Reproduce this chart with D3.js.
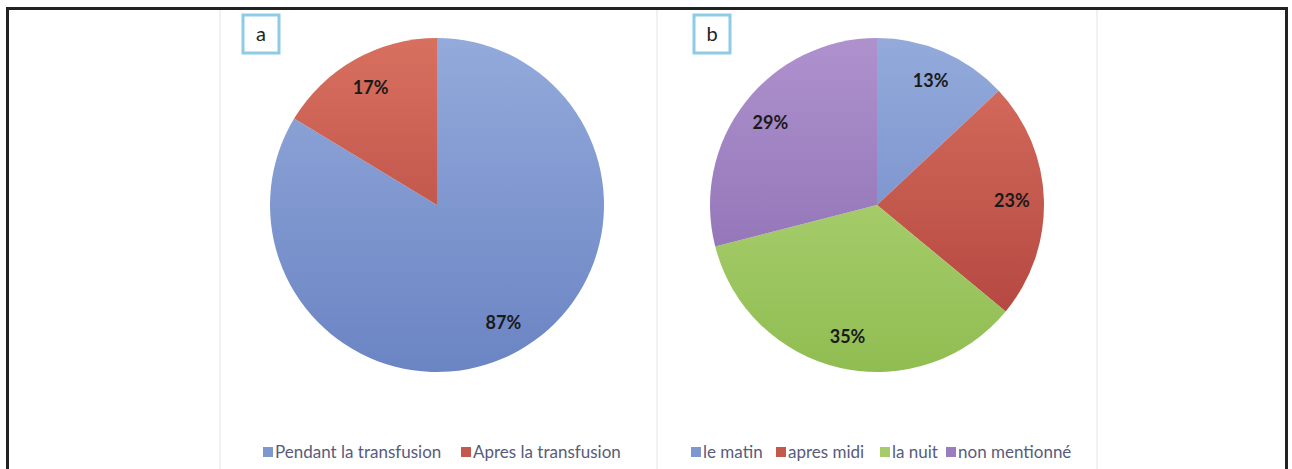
<!DOCTYPE html>
<html><head><meta charset="utf-8">
<script src="https://cdn.jsdelivr.net/npm/d3@7"></script>
<style>body{margin:0;background:#fff}svg{display:block}</style>
</head><body>
<svg id="c" width="1292" height="469"></svg>
<script>
const catsA = ["Pendant la transfusion", "Apres la transfusion"];
const valsA = [87, 17];
const labelsA = ["87%", "17%"];
const catsB = ["le matin", "apres midi", "la nuit", "non mentionné"];
const valsB = [13, 23, 35, 29];
const labelsB = ["13%", "23%", "35%", "29%"];
const colorsTop = {blue:"#93aadb", red:"#d8705f", green:"#b9da80", purple:"#ae91cd"};
const colorsBot = {blue:"#6b84c3", red:"#ae403b", green:"#90bd52", purple:"#8668ae"};

const svg = d3.select("#c");
const defs = svg.append("defs");

// frame
svg.append("rect").attr("x",7.5).attr("y",8.5).attr("width",1279).attr("height",480)
  .attr("fill","none").attr("stroke","#222").attr("stroke-width",3);
// panel separators
[220,657,1097].forEach(x => svg.append("line").attr("x1",x).attr("x2",x).attr("y1",10).attr("y2",469)
  .attr("stroke","#ececec").attr("stroke-width",1.5));

const R = 167;
function drawPie(cx, cy, cats, vals, labels, colorKeys, letter, boxX, legendItems) {
  const pie = d3.pie().sort(null).value(d => d).startAngle(0).endAngle(2*Math.PI);
  const g = svg.append("g").attr("transform",`translate(${cx},${cy})`);
  const arcsData = pie(vals);
  const arc = d3.arc().innerRadius(0).outerRadius(R);
  const lab = d3.arc().innerRadius(135).outerRadius(135);
  g.selectAll("path").data(arcsData).join("path")
    .attr("d", arc)
    .attr("fill", (d,i) => {
      const id = "g_"+colorKeys[i]+"_"+letter;
      const gr = defs.append("linearGradient").attr("id",id)
        .attr("gradientUnits","userSpaceOnUse").attr("x1",0).attr("y1",-R).attr("x2",0).attr("y2",R);
      gr.append("stop").attr("offset","0").attr("stop-color",colorsTop[colorKeys[i]]);
      gr.append("stop").attr("offset","1").attr("stop-color",colorsBot[colorKeys[i]]);
      return `url(#${id})`;
    });
  g.selectAll("text").data(arcsData).join("text")
    .attr("transform", d => `translate(${lab.centroid(d)})`)
    .attr("text-anchor","middle").attr("dy","0.35em")
    .attr("font-family","Lato, 'Open Sans', sans-serif").attr("font-weight","bold")
    .attr("font-size",18).attr("fill","#1a1a1a")
    .text((d,i) => labels[i]);
  // letter box
  svg.append("rect").attr("x",boxX).attr("y",15).attr("width",36).attr("height",38)
    .attr("fill","#fff").attr("stroke","#8dcbe6").attr("stroke-width",3);
  svg.append("text").attr("x",boxX+18).attr("y",41).attr("text-anchor","middle")
    .attr("font-family","Lato, 'Open Sans', sans-serif").attr("font-size",20).attr("fill","#222")
    .text(letter);
  // legend
  const lg = svg.append("g");
  legendItems.forEach((it,i) => {
    lg.append("rect").attr("x",it.x).attr("y",447).attr("width",10).attr("height",10)
      .attr("fill",d3.interpolateRgb(colorsTop[colorKeys[i]], colorsBot[colorKeys[i]])(0.5));
    lg.append("text").attr("x",it.x+12).attr("y",458)
      .attr("font-family","Lato, 'Open Sans', sans-serif").attr("font-size",17).attr("fill","#585b7c")
      .text(cats[i]);
  });
}
drawPie(437, 205, catsA, valsA, labelsA, ["blue","red"], "a", 243, [{x:263},{x:461}]);
drawPie(877, 205, catsB, valsB, labelsB, ["blue","red","green","purple"], "b", 694, [{x:691},{x:776},{x:880},{x:946}]);
</script>
</body></html>
